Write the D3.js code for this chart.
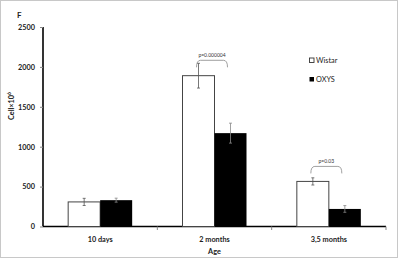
<!DOCTYPE html>
<html><head><meta charset="utf-8">
<script src="https://cdn.jsdelivr.net/npm/d3@7"></script>
<style>body{margin:0;background:#fff}svg{display:block}text{font-family:Lato,"Open Sans",sans-serif}</style>
</head><body>
<svg id="c" width="400" height="261"></svg>
<script>
const categories = ["10 days", "2 months", "3,5 months"];
const wistar = [308, 1890, 565];
const wistarErr = [45, 155, 45];
const oxys = [330, 1170, 220];
const oxysErr = [25, 125, 42];
const yTicks = [0, 500, 1000, 1500, 2000, 2500];
const pLabels = [null, "p=0.000004", "p=0.03"];
const seriesNames = ["Wistar", "OXYS"];

const svg = d3.select("#c");
svg.append("rect").attr("x",0.5).attr("y",0.5).attr("width",397).attr("height",257)
  .attr("fill","#fff").attr("stroke","#c8c8c8").attr("stroke-width",1);

const x = d3.scaleBand().domain(categories).range([43, 386]).padding(0);
const y = d3.scaleLinear().domain([0, 2500]).range([226.5, 27]);
const bw = 32;

// y axis
const ya = svg.append("g").attr("transform","translate(43,0)")
  .call(d3.axisLeft(y).tickValues(yTicks).tickSize(3).tickPadding(5).tickFormat(d3.format("d")));
ya.select(".domain").attr("stroke","#000").attr("stroke-width",1.6).attr("d","M0,27V226.5");
ya.selectAll(".tick line").attr("stroke","#888");
ya.selectAll("text").attr("font-size",7.3).attr("font-weight","bold").attr("fill","#222");

// x axis
const xa = svg.append("g").attr("transform","translate(0,226.5)")
  .call(d3.axisBottom(x).tickSize(0).tickPadding(10));
xa.select(".domain").attr("stroke","#000").attr("stroke-width",1.6).attr("d","M43,0H386");
xa.selectAll("text").attr("font-size",7.3).attr("font-weight","bold").attr("fill","#222");
const bounds = categories.map(c => x(c)).concat([x(categories[2]) + x.bandwidth()]).slice(1);
svg.selectAll(".xt").data(bounds).enter().append("line")
  .attr("x1",d=>d).attr("x2",d=>d).attr("y1",226.5).attr("y2",230).attr("stroke","#888");

const cx = c => x(c) + x.bandwidth()/2;

// bars
const g = svg.append("g");
g.selectAll(".w").data(categories).enter().append("rect")
  .attr("x", c => cx(c) - bw).attr("width", bw)
  .attr("y", (c,i) => y(wistar[i])).attr("height", (c,i) => y(0) - y(wistar[i]))
  .attr("fill","#fff").attr("stroke","#444").attr("stroke-width",1);
g.selectAll(".o").data(categories).enter().append("rect")
  .attr("x", c => cx(c)).attr("width", bw)
  .attr("y", (c,i) => y(oxys[i])).attr("height", (c,i) => y(0) - y(oxys[i]))
  .attr("fill","#000");

// error bars
function err(xc, v, e, col) {
  const e1 = g.append("g").attr("stroke", col).attr("stroke-width", 0.8);
  e1.append("line").attr("x1",xc).attr("x2",xc).attr("y1",y(v+e)).attr("y2",y(v-e));
  e1.append("line").attr("x1",xc-1.5).attr("x2",xc+1.5).attr("y1",y(v+e)).attr("y2",y(v+e));
  e1.append("line").attr("x1",xc-1.5).attr("x2",xc+1.5).attr("y1",y(v-e)).attr("y2",y(v-e));
}
categories.forEach((c,i) => {
  err(cx(c) - bw/2, wistar[i], wistarErr[i], "#555");
  err(cx(c) + bw/2, oxys[i], oxysErr[i], "#888");
});

// significance brackets
categories.forEach((c,i) => {
  if (!pLabels[i]) return;
  const top = y(Math.max(wistar[i] + wistarErr[i], oxys[i] + oxysErr[i])) - 3;
  const x1 = cx(c) - bw/2 - 2, x2 = cx(c) + bw/2 - 3;
  const yb = Math.min(top, y(wistar[i]) - 15);
  g.append("path")
    .attr("d", `M${x1},${yb+7} Q${x1},${yb} ${x1+4},${yb} L${x2-4},${yb} Q${x2},${yb} ${x2},${yb+7}`)
    .attr("fill","none").attr("stroke","#888").attr("stroke-width",0.8);
  g.append("text").attr("x",(x1+x2)/2).attr("y",yb-3).attr("text-anchor","middle")
    .attr("font-size",5).attr("fill","#333").text(pLabels[i]);
});

// legend
const lg = svg.append("g");
seriesNames.forEach((n,i) => {
  const yy = 60.5 + i*19;
  lg.append("rect").attr("x",309.5).attr("y",yy-2.5).attr("width",4.5).attr("height",4.5)
    .attr("fill", i ? "#000" : "#fff").attr("stroke", i ? "none" : "#333").attr("stroke-width",0.9);
  lg.append("text").attr("x",316).attr("y",yy+2.5).attr("font-size",7.3).attr("fill","#222").text(n);
});

// titles
svg.append("text").attr("x",17).attr("y",18).attr("font-size",8).attr("font-weight","bold").attr("fill","#222").text("F");
const yl = svg.append("text").attr("transform","translate(14,106) rotate(-90)").attr("text-anchor","middle")
  .attr("font-size",7.3).attr("font-weight","bold").attr("fill","#222");
yl.append("tspan").text("Cell×10");
yl.append("tspan").attr("dy",-3).attr("font-size",5).text("6");
svg.append("text").attr("x",x(categories[1]) + x.bandwidth()/2).attr("y",254).attr("text-anchor","middle")
  .attr("font-size",7.3).attr("font-weight","bold").attr("fill","#222").text("Age");
</script>
</body></html>
